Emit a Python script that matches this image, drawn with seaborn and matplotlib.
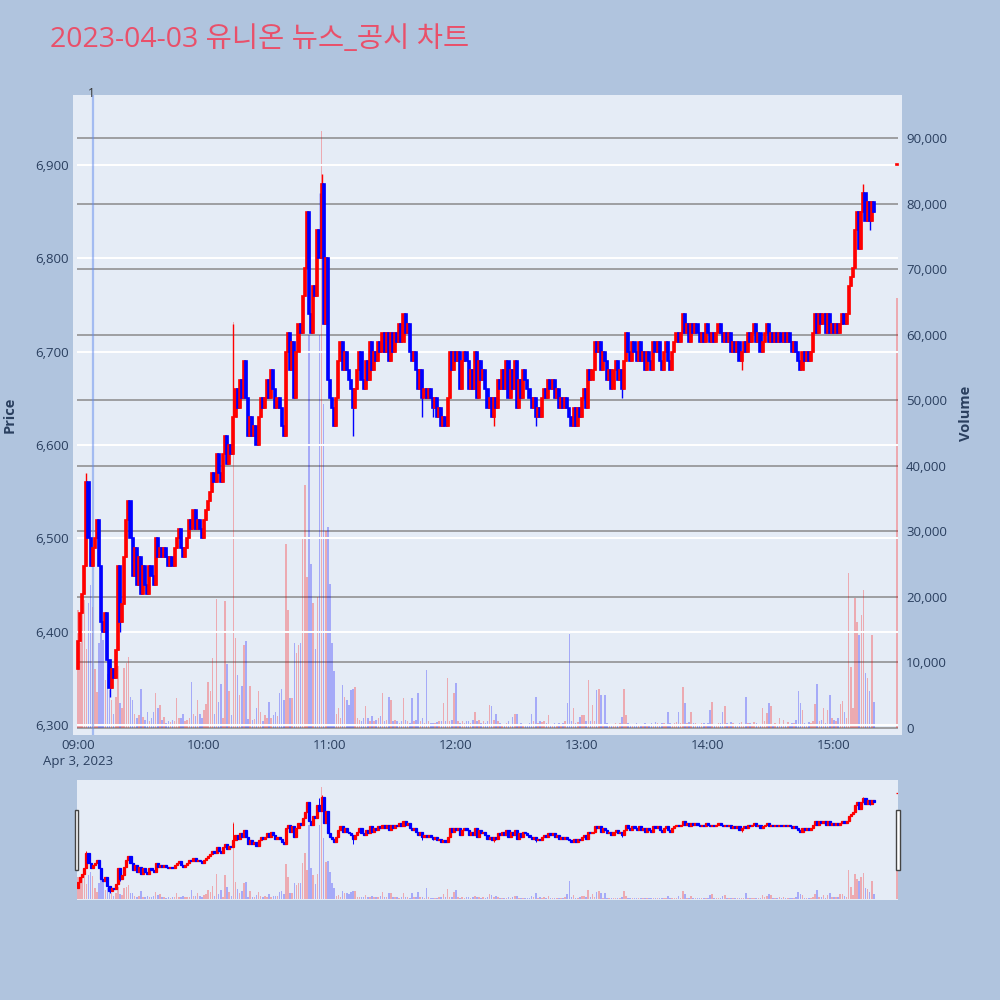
import numpy as np
import pandas as pd
import seaborn as sns
import matplotlib.pyplot as plt
import matplotlib.transforms as mtransforms
from matplotlib.patches import Rectangle

sns.set_theme(style="white")
plt.rcParams['font.family'] = ['Open Sans', 'Noto Sans CJK KR', 'DejaVu Sans']

# ---- data (1-minute candles, 09:00 .. 15:19, then 15:30 close) ----
close_px = [
    6390, 6420, 6440, 6470, 6560, 6500, 6470, 6490, 6500, 6520,  # 09:00
    6470, 6410, 6400, 6420, 6370, 6340, 6360, 6350, 6380, 6470,  # 09:10
    6410, 6430, 6480, 6520, 6540, 6500, 6460, 6490, 6450, 6480,  # 09:20
    6440, 6470, 6450, 6440, 6470, 6460, 6450, 6500, 6480, 6490,  # 09:30
    6480, 6490, 6480, 6470, 6480, 6470, 6490, 6500, 6510, 6490,  # 09:40
    6480, 6490, 6500, 6520, 6510, 6530, 6510, 6520, 6510, 6500,  # 09:50
    6520, 6530, 6540, 6550, 6570, 6560, 6590, 6570, 6560, 6590,  # 10:00
    6610, 6580, 6600, 6590, 6630, 6660, 6640, 6670, 6650, 6690,  # 10:10
    6650, 6610, 6630, 6610, 6620, 6600, 6630, 6650, 6640, 6650,  # 10:20
    6670, 6650, 6680, 6660, 6640, 6650, 6640, 6620, 6610, 6700,  # 10:30
    6720, 6680, 6710, 6650, 6700, 6730, 6720, 6760, 6790, 6850,  # 10:40
    6740, 6720, 6770, 6760, 6830, 6800, 6880, 6730, 6800, 6670,  # 10:50
    6650, 6640, 6620, 6650, 6690, 6710, 6680, 6700, 6680, 6670,  # 11:00
    6660, 6640, 6660, 6680, 6700, 6670, 6660, 6690, 6670, 6710,  # 11:10
    6680, 6700, 6690, 6710, 6700, 6720, 6700, 6720, 6690, 6720,  # 11:20
    6700, 6720, 6710, 6730, 6710, 6740, 6720, 6730, 6700, 6690,  # 11:30
    6700, 6680, 6660, 6680, 6650, 6660, 6650, 6660, 6650, 6640,  # 11:40
    6650, 6630, 6640, 6620, 6630, 6620, 6650, 6700, 6680, 6700,  # 11:50
    6690, 6700, 6660, 6690, 6700, 6690, 6660, 6680, 6660, 6700,  # 12:00
    6650, 6690, 6670, 6680, 6660, 6640, 6650, 6630, 6650, 6640,  # 12:10
    6670, 6660, 6680, 6660, 6690, 6650, 6680, 6660, 6690, 6640,  # 12:20
    6670, 6650, 6680, 6670, 6660, 6650, 6640, 6650, 6630, 6640,  # 12:30
    6630, 6650, 6660, 6650, 6670, 6660, 6670, 6650, 6660, 6640,  # 12:40
    6650, 6640, 6650, 6640, 6630, 6620, 6640, 6620, 6640, 6630,  # 12:50
    6650, 6660, 6640, 6680, 6670, 6680, 6710, 6700, 6710, 6680,  # 13:00
    6700, 6690, 6670, 6680, 6660, 6680, 6690, 6670, 6680, 6660,  # 13:10
    6690, 6720, 6700, 6690, 6710, 6700, 6690, 6710, 6690, 6700,  # 13:20
    6680, 6700, 6690, 6680, 6710, 6700, 6710, 6690, 6680, 6700,  # 13:30
    6710, 6690, 6680, 6700, 6710, 6720, 6710, 6720, 6740, 6720,  # 13:40
    6730, 6710, 6730, 6720, 6730, 6720, 6710, 6720, 6710, 6730,  # 13:50
    6720, 6710, 6720, 6710, 6720, 6730, 6720, 6710, 6720, 6710,  # 14:00
    6720, 6700, 6710, 6700, 6710, 6690, 6700, 6710, 6700, 6720,  # 14:10
    6710, 6720, 6730, 6710, 6720, 6700, 6710, 6720, 6730, 6710,  # 14:20
    6720, 6710, 6720, 6710, 6720, 6710, 6720, 6710, 6720, 6710,  # 14:30
    6700, 6710, 6700, 6690, 6680, 6700, 6690, 6700, 6690, 6700,  # 14:40
    6720, 6740, 6720, 6740, 6730, 6740, 6720, 6740, 6720, 6730,  # 14:50
    6720, 6730, 6720, 6730, 6740, 6730, 6740, 6770, 6780, 6790,  # 15:00
    6830, 6850, 6810, 6850, 6870, 6840, 6860, 6840, 6860, 6850,  # 15:10
    6900,                                                        # 15:30
]

volume_k = [
    18, 13, 17.5, 19.5, 12, 19, 21.8, 18.5, 9, 5.5,
    13, 17.5, 13.4, 7.3, 8.3, 5.8, 4.3, 2.2, 4.8, 9.4,
    3.8, 3.0, 9.1, 9.9, 10.9, 4.8, 4.3, 2.2, 1.5, 2.0,
    6.0, 1.7, 1.2, 2.5, 1.0, 1.5, 2.5, 5.3, 3.0, 3.5,
    1.2, 1.7, 0.8, 1.0, 0.9, 1.2, 1.0, 4.5, 1.5, 1.5,
    2.2, 1.0, 1.2, 1.5, 7.0, 2.2, 1.8, 4.3, 2.2, 1.5,
    2.7, 3.6, 7.0, 5.6, 10.7, 2.2, 19.7, 3.9, 6.7, 1.5,
    19.4, 9.8, 5.6, 2.0, 62.0, 13.8, 8.1, 5.0, 6.4, 12.7,
    13.2, 1.4, 6.4, 1.2, 1.4, 3.0, 5.6, 2.5, 1.0, 2.0,
    1.5, 3.9, 1.5, 2.0, 2.5, 1.8, 5.3, 5.9, 4.2, 28.0,
    18.0, 4.5, 4.5, 13.0, 11.5, 12.7, 13.0, 29.0, 37.0, 23.0,
    60.0, 25.0, 19.0, 12.0, 20.0, 60.0, 91.0, 49.5, 30.0, 30.7,
    22.0, 13.0, 8.7, 2.2, 3.0, 1.5, 6.6, 4.8, 4.3, 3.5,
    5.8, 6.0, 6.3, 1.5, 1.2, 1.0, 1.5, 3.3, 1.5, 1.0,
    1.8, 1.0, 1.2, 1.5, 1.8, 5.3, 1.0, 1.2, 4.8, 4.3,
    1.0, 1.2, 1.0, 0.8, 1.0, 4.5, 1.2, 1.0, 0.8, 4.5,
    1.0, 1.2, 5.3, 1.0, 1.5, 0.8, 8.8, 1.0, 0.7, 0.7,
    0.7, 0.9, 1.0, 1.0, 3.8, 1.0, 7.6, 1.0, 1.2, 5.3,
    6.8, 1.0, 0.8, 1.0, 0.8, 1.0, 1.0, 0.8, 1.2, 2.5,
    1.0, 1.2, 0.8, 1.0, 0.7, 1.0, 3.5, 3.3, 1.2, 2.2,
    1.0, 0.8, 0.5, 0.6, 0.8, 1.0, 0.5, 1.7, 2.2, 2.2,
    0.6, 0.7, 0.5, 0.5, 0.6, 0.8, 2.2, 1.0, 4.8, 0.8,
    1.0, 0.9, 1.0, 0.7, 2.0, 0.6, 0.5, 0.8, 0.6, 0.7,
    0.6, 0.8, 1.0, 3.8, 14.4, 1.0, 3.0, 0.8, 0.9, 1.7,
    2.0, 2.0, 1.0, 7.3, 1.0, 3.5, 1.0, 5.8, 6.0, 5.0,
    0.6, 5.0, 0.8, 0.6, 0.5, 0.6, 0.7, 0.5, 0.8, 1.7,
    6.0, 2.0, 0.8, 0.6, 0.5, 0.6, 0.7, 0.5, 0.6, 0.5,
    0.8, 0.6, 0.5, 0.7, 0.6, 0.9, 0.8, 0.5, 0.8, 0.7,
    0.6, 2.5, 0.8, 0.6, 0.7, 0.9, 2.5, 0.8, 6.3, 3.8,
    0.8, 0.9, 2.5, 0.8, 0.7, 0.6, 0.5, 0.8, 0.7, 0.6,
    0.8, 2.7, 4.0, 0.6, 0.5, 0.7, 0.8, 2.5, 3.3, 0.8,
    0.6, 0.9, 0.7, 0.6, 0.5, 0.8, 0.9, 0.6, 4.7, 0.7,
    0.8, 0.6, 0.9, 0.7, 0.6, 0.5, 3.0, 1.0, 2.3, 3.8,
    3.3, 0.6, 0.7, 0.5, 1.5, 0.6, 1.2, 0.5, 0.9, 0.6,
    0.8, 0.7, 1.2, 5.6, 3.8, 2.7, 0.8, 0.6, 0.9, 0.8,
    1.0, 3.6, 6.7, 1.0, 1.2, 3.0, 0.8, 2.7, 5.0, 1.5,
    1.2, 1.0, 1.5, 3.6, 4.1, 2.4, 1.5, 23.6, 9.3, 3.0,
    19.9, 16.2, 14.2, 17.3, 21.0, 8.4, 7.6, 5.6, 14.2, 4.0,
    65.6,
]

first_open = 6360          # 09:00 open
auction_open = 6900        # 15:30 single-price close
wick_high = {4: 6570, 74: 6730, 110: 6850, 115: 6870, 116: 6890, 155: 6740,
             261: 6720, 288: 6740, 374: 6880}
wick_low = {15: 6330, 20: 6400, 131: 6610, 164: 6630, 169: 6630, 198: 6620,
            218: 6620, 259: 6650, 316: 6680, 377: 6830}

news_minute = [7]          # 09:07
news_label = ['1']

time_ticks = [0, 60, 120, 180, 240, 300, 360]
time_labels = ['09:00\nApr 3, 2023', '10:00', '11:00', '12:00', '13:00', '14:00', '15:00']
price_ticks = [6300, 6400, 6500, 6600, 6700, 6800, 6900]
volume_ticks = [0, 10000, 20000, 30000, 40000, 50000, 60000, 70000, 80000, 90000]

title = '2023-04-03 유니온 뉴스_공시 차트'

# ---- build table ----
minutes = list(range(380)) + [390]
opens = [first_open] + close_px[:-1]
opens[-1] = auction_open
df = pd.DataFrame({'minute': minutes, 'open': opens, 'close': close_px,
                   'volume': np.array(volume_k) * 1000})
df['high'] = df[['open', 'close']].max(axis=1)
df['low'] = df[['open', 'close']].min(axis=1)
for k, v in wick_high.items():
    df.loc[k, 'high'] = v
for k, v in wick_low.items():
    df.loc[k, 'low'] = v
df['up'] = df['close'] >= df['open']
df['col'] = np.where(df['up'], '#FF0000', '#0000FF')

PAPER = '#B0C4DE'
PLOT_BG = '#E5ECF6'
TXT = '#2a3f5f'

XMIN, XMAX = -2.381, 392.38
PMIN, PMAX = 6289.3, 6975.0
VMIN, VMAX = -1068, 96560


def draw_candles(axp, axv, body_lw, wick_lw, bar_w):
    axv.bar(df['minute'], df['volume'], width=bar_w, color=df['col'], alpha=0.28,
            linewidth=0, zorder=2)
    body = (df['close'] - df['open']).abs().clip(lower=1.5)
    bottom = df[['open', 'close']].min(axis=1)
    axp.vlines(df['minute'], df['low'], df['high'], colors=df['col'], linewidth=wick_lw, zorder=3)
    axp.bar(df['minute'], body, bottom=bottom, width=1.0, color=df['col'],
            edgecolor=df['col'], linewidth=body_lw, zorder=4)


fig = plt.figure(figsize=(10, 10), dpi=100)
fig.patch.set_facecolor(PAPER)

# ---- main chart ----
ax = fig.add_axes([0.073, 0.265, 0.829, 0.640])
axv = ax.twinx()
ax.set_zorder(axv.get_zorder() + 1)
ax.patch.set_visible(False)
axv.patch.set_visible(True)
axv.set_facecolor(PLOT_BG)

ax.set_xlim(XMIN, XMAX)
ax.set_ylim(PMIN, PMAX)
axv.set_ylim(VMIN, VMAX)

axv.hlines(volume_ticks, -0.48, 390.5, colors='#8a8a8a', linewidth=1.1, zorder=1)
ax.hlines(price_ticks, -0.48, 390.5, colors='white', linewidth=1.4, zorder=1)

draw_candles(ax, axv, body_lw=1.2, wick_lw=1.0, bar_w=0.75)

for m, lab in zip(news_minute, news_label):
    ax.axvline(m, color=(0.39, 0.55, 0.93, 0.5), linewidth=1.6, zorder=2)
    trans = mtransforms.blended_transform_factory(ax.transData, ax.transAxes)
    ax.text(m - 0.6, 1.003, lab, transform=trans, ha='center', va='center',
            fontsize=8.5, color='#333333')

ax.set_xticks(time_ticks)
ax.set_xticklabels(time_labels, fontsize=9.5, color=TXT, linespacing=1.25)
ax.set_yticks(price_ticks)
ax.set_yticklabels([f'{v:,}' for v in price_ticks], fontsize=9.5, color=TXT)
axv.set_yticks(volume_ticks)
axv.set_yticklabels([f'{v:,}' for v in volume_ticks], fontsize=9.5, color=TXT)
ax.tick_params(axis='both', length=0, pad=3)
axv.tick_params(axis='y', length=0, pad=3)
for a in (ax, axv):
    for s in a.spines.values():
        s.set_visible(False)
    a.grid(False)

fig.text(0.010, 1 - 0.415, 'Price', rotation=90, ha='center', va='center',
         fontsize=10.5, fontweight='bold', color=TXT)
fig.text(0.966, 1 - 0.413, 'Volume', rotation=90, ha='center', va='center',
         fontsize=10.5, fontweight='bold', color=TXT)
fig.text(0.050, 1 - 0.040, title, ha='left', va='center', fontsize=20.5, color='#E9506A')

# ---- range slider ----
sp = fig.add_axes([0.077, 0.100, 0.821, 0.120])
sv = sp.twinx()
sp.set_zorder(sv.get_zorder() + 1)
sp.patch.set_visible(False)
sv.patch.set_visible(True)
sv.set_facecolor(PLOT_BG)
sp.set_xlim(-0.48, 390.5)
sp.set_ylim(PMIN, PMAX)
sv.set_ylim(VMIN, VMAX)
draw_candles(sp, sv, body_lw=0.9, wick_lw=0.7, bar_w=0.75)
for a in (sp, sv):
    a.set_xticks([])
    a.set_yticks([])
    for s in a.spines.values():
        s.set_visible(False)
    a.grid(False)

for x0 in (74.5, 896.0):
    fig.patches.append(Rectangle((x0 / 1000, 1 - 0.870), 0.0035, 0.060, transform=fig.transFigure,
                                 facecolor='white', edgecolor='#444444', linewidth=1.0, zorder=10))

fig.savefig('out.png', dpi=100, facecolor=PAPER)
